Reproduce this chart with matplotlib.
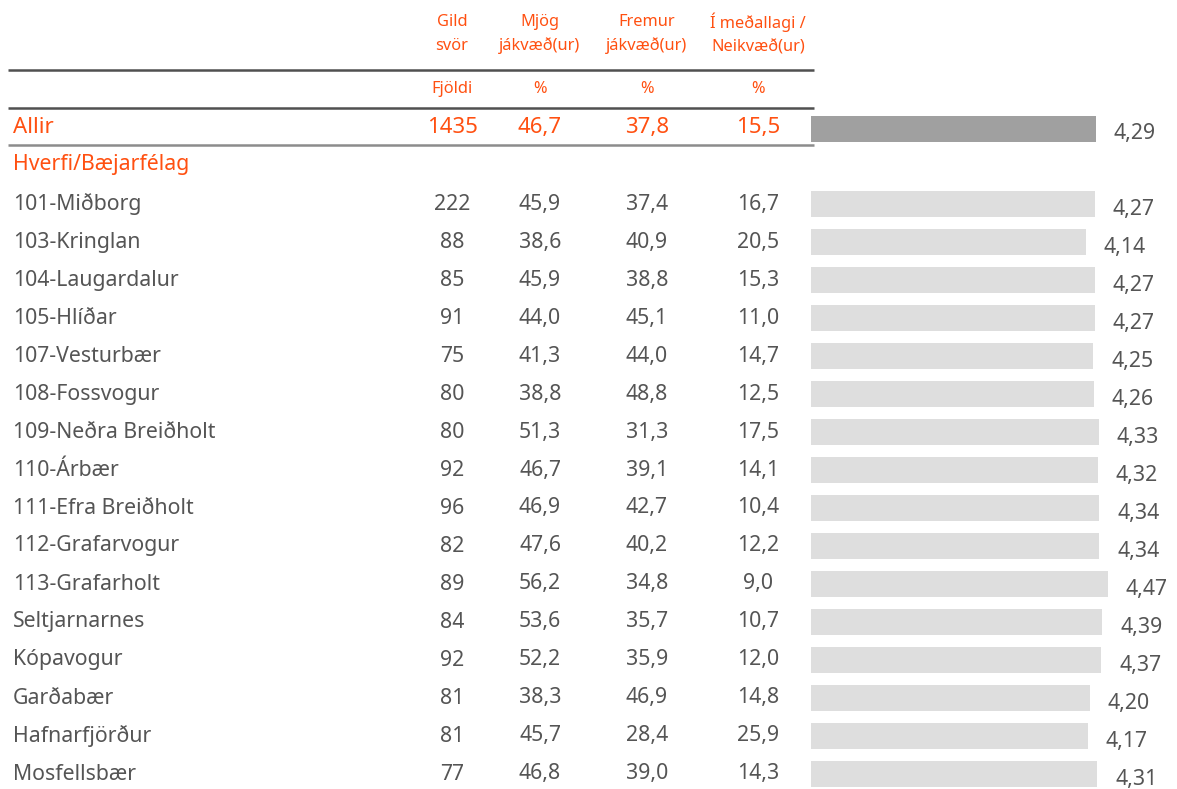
import matplotlib.pyplot as plt

# Table data
AREAS = [
    "101-Miðborg", "103-Kringlan", "104-Laugardalur", "105-Hlíðar",
    "107-Vesturbær", "108-Fossvogur", "109-Neðra Breiðholt", "110-Árbær",
    "111-Efra Breiðholt", "112-Grafarvogur", "113-Grafarholt", "Seltjarnarnes",
    "Kópavogur", "Garðabær", "Hafnarfjörður", "Mosfellsbær",
]
COUNTS = [222, 88, 85, 91, 75, 80, 80, 92, 96, 82, 89, 84, 92, 81, 81, 77]
VERY_POS = [45.9, 38.6, 45.9, 44.0, 41.3, 38.8, 51.3, 46.7, 46.9, 47.6, 56.2, 53.6, 52.2, 38.3, 45.7, 46.8]
RATHER_POS = [37.4, 40.9, 38.8, 45.1, 44.0, 48.8, 31.3, 39.1, 42.7, 40.2, 34.8, 35.7, 35.9, 46.9, 28.4, 39.0]
NEUTRAL_NEG = [16.7, 20.5, 15.3, 11.0, 14.7, 12.5, 17.5, 14.1, 10.4, 12.2, 9.0, 10.7, 12.0, 14.8, 25.9, 14.3]
MEANS = [4.27, 4.14, 4.27, 4.27, 4.25, 4.26, 4.33, 4.32, 4.34, 4.34, 4.47, 4.39, 4.37, 4.20, 4.17, 4.31]

TOTAL_LABEL = "Allir"
TOTAL_COUNT = 1435
TOTAL_VALUES = [46.7, 37.8, 15.5]
TOTAL_MEAN = 4.29

GROUP_LABEL = "Hverfi/Bæjarfélag"
COL_HEADERS = ["Gild\nsvör", "Mjög\njákvæð(ur)", "Fremur\njákvæð(ur)", "Í meðallagi /\nNeikvæð(ur)"]
COL_UNITS = ["Fjöldi", "%", "%", "%"]

ORANGE = "#ff5011"
GRAY_TEXT = "#555555"
FONT = "Noto Sans"
ROW_FS = 15.3
HEAD_FS = 11.8

W, H = 1177, 789
fig = plt.figure(figsize=(W / 100, H / 100), dpi=100)

# text layer in pixel coordinates
ax = fig.add_axes([0, 0, 1, 1])
ax.set_xlim(0, W)
ax.set_ylim(H, 0)
ax.axis("off")

# bar layer: starts at x=811 px, 66.4 px per unit
bar_x0 = 811
px_per_unit = 66.4
axb = fig.add_axes([bar_x0 / W, 0, (W - bar_x0) / W, 1])
axb.set_xlim(0, (W - bar_x0) / px_per_unit)
axb.set_ylim(H, 0)
axb.axis("off")

col_x = [452, 540, 647, 758]
row_y0 = 204
row_step = 38
y_total = 127
y_group = 164


def fmt(v, nd=1):
    return f"{v:.{nd}f}".replace(".", ",")


# header
for x, head, unit in zip(col_x, COL_HEADERS, COL_UNITS):
    ax.text(x, 34, head, ha="center", va="center", color=ORANGE,
            fontsize=HEAD_FS, family=FONT, linespacing=1.6)
    ax.text(x, 89, unit, ha="center", va="center", color=ORANGE,
            fontsize=HEAD_FS, family=FONT)

# rules
ax.plot([8, 814], [69.5, 69.5], color="#505050", lw=1.8, solid_capstyle="butt")
ax.plot([8, 814], [107.5, 107.5], color="#505050", lw=1.8, solid_capstyle="butt")
ax.plot([8, 814], [145, 145], color="#8c8c8c", lw=1.8, solid_capstyle="butt")

# total row
ax.text(13, y_total, TOTAL_LABEL, ha="left", va="center", color=ORANGE,
        fontsize=16, family=FONT)
ax.text(col_x[0], y_total, str(TOTAL_COUNT), ha="center", va="center",
        color=ORANGE, fontsize=16, family=FONT)
for x, v in zip(col_x[1:], TOTAL_VALUES):
    ax.text(x, y_total, fmt(v), ha="center", va="center",
            color=ORANGE, fontsize=16, family=FONT)
axb.barh([129], [TOTAL_MEAN], height=26, left=0, color="#a0a0a0")
axb.text(TOTAL_MEAN + 18 / px_per_unit, 133, fmt(TOTAL_MEAN, 2),
         ha="left", va="center", color=GRAY_TEXT, fontsize=ROW_FS, family=FONT)

ax.text(13, y_group, GROUP_LABEL, ha="left", va="center", color=ORANGE,
        fontsize=ROW_FS, family=FONT)

# area rows
for i, name in enumerate(AREAS):
    y = row_y0 + i * row_step
    ax.text(13, y, name, ha="left", va="center", color=GRAY_TEXT,
            fontsize=ROW_FS, family=FONT)
    ax.text(col_x[0], y, str(COUNTS[i]), ha="center", va="center",
            color=GRAY_TEXT, fontsize=ROW_FS, family=FONT)
    for x, v in zip(col_x[1:], (VERY_POS[i], RATHER_POS[i], NEUTRAL_NEG[i])):
        ax.text(x, y, fmt(v), ha="center", va="center",
                color=GRAY_TEXT, fontsize=ROW_FS, family=FONT)

ys = [row_y0 + i * row_step for i in range(len(AREAS))]
axb.barh(ys, MEANS, height=26, left=0, color="#dedede")
for y, m in zip(ys, MEANS):
    axb.text(m + 18 / px_per_unit, y + 5, fmt(m, 2),
             ha="left", va="center", color=GRAY_TEXT, fontsize=ROW_FS, family=FONT)

fig.savefig("out.png", dpi=100)
